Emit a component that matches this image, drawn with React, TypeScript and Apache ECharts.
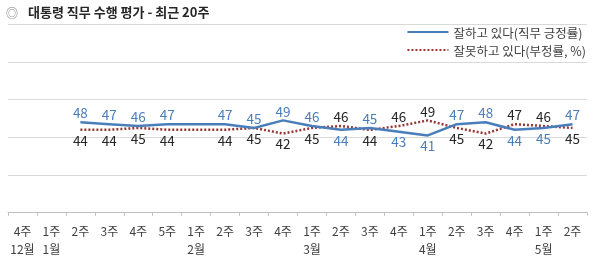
import React, { useEffect, useRef } from "react";
import * as echarts from "echarts";

const weeks = ["4주", "1주", "2주", "3주", "4주", "5주", "1주", "2주", "3주", "4주", "1주", "2주", "3주", "4주", "1주", "2주", "3주", "4주", "1주", "2주"];
const months = ["12월", "1월", "", "", "", "", "2월", "", "", "", "3월", "", "", "", "4월", "", "", "", "5월", ""];
const approve: (number | null)[] = [null, null, 48, 47, 46, 47, null, 47, 45, 49, 46, 44, 45, 43, 41, 47, 48, 44, 45, 47];
const disapprove: (number | null)[] = [null, null, 44, 44, 45, 44, null, 44, 45, 42, 45, 46, 44, 46, 49, 45, 42, 47, 46, 45];

const seriesNames = ["잘하고 있다(직무 긍정률)", "잘못하고 있다(부정률, %)"];
const titleText = "대통령 직무 수행 평가 - 최근 20주";

const FONT = '"Noto Sans CJK KR", "Noto Sans", sans-serif';
const BLUE = "#4a7ebb";
const RED = "#953735";

export default function App() {
  const ref = useRef<HTMLDivElement>(null);
  useEffect(() => {
    if (!ref.current) return;
    const chart = echarts.init(ref.current, undefined, { renderer: "svg" });
    const categories = weeks.map((w, i) => (months[i] ? `${w}\n${months[i]}` : w));
    const approveData = approve.map((v, i) => {
      const other = disapprove[i];
      const above = v != null && other != null && v >= other;
      return { value: v, label: { position: above ? "top" : "bottom" } };
    });
    const disapproveData = disapprove.map((v, i) => {
      const other = approve[i];
      const above = v != null && other != null && v > other;
      return { value: v, label: { position: above ? "top" : "bottom" } };
    });
    chart.setOption({
      animation: false,
      textStyle: { fontFamily: FONT },
      title: [
        { text: "◎", left: 6, top: 6, padding: 0, textStyle: { fontSize: 12, color: "#808080", fontWeight: "normal", fontFamily: FONT } },
        { text: titleText, left: 28, top: 5, padding: 0, textStyle: { fontSize: 13, color: "#262626", fontWeight: "bold", fontFamily: FONT } },
      ],
      legend: {
        data: seriesNames,
        orient: "vertical",
        right: 14,
        top: 24.5,
        padding: 0,
        itemGap: 3,
        itemWidth: 41,
        itemHeight: 3,
        itemStyle: { opacity: 0 },
        textStyle: { fontSize: 12.5, lineHeight: 15, color: "#404040", fontFamily: FONT },
      },
      grid: { left: 8, right: 13, top: 24.3, bottom: 64.3, containLabel: false },
      xAxis: {
        type: "category",
        data: categories,
        boundaryGap: true,
        axisLine: { lineStyle: { color: "#bfbfbf", width: 1 } },
        axisTick: { show: true, length: 3, lineStyle: { color: "#bfbfbf" } },
        axisLabel: { interval: 0, color: "#404040", fontSize: 12, lineHeight: 18, margin: 9, fontFamily: FONT },
      },
      yAxis: {
        type: "value",
        min: 0,
        max: 100,
        interval: 20,
        axisLabel: { show: false },
        axisLine: { show: false },
        axisTick: { show: false },
        splitLine: { lineStyle: { color: "#d9d9d9", width: 1 } },
      },
      series: [
        {
          name: seriesNames[0],
          type: "line",
          data: approveData,
          connectNulls: true,
          symbol: "circle",
          symbolSize: 0.1,
          showSymbol: true,
          itemStyle: { color: BLUE },
          lineStyle: { color: BLUE, width: 2.5 },
          label: { show: true, distance: 3, fontSize: 13.5, color: BLUE, fontFamily: FONT },
          z: 3,
        },
        {
          name: seriesNames[1],
          type: "line",
          data: disapproveData,
          connectNulls: true,
          symbol: "circle",
          symbolSize: 0.1,
          showSymbol: true,
          itemStyle: { color: RED },
          lineStyle: { color: RED, width: 2.5, type: [2, 2] },
          label: { show: true, distance: 3, fontSize: 13.5, color: "#262626", fontFamily: FONT },
          z: 2,
        },
      ],
    });
    return () => chart.dispose();
  }, []);
  return <div ref={ref} style={{ position: "fixed", left: 0, top: 0, width: 600, height: 277 }} />;
}
